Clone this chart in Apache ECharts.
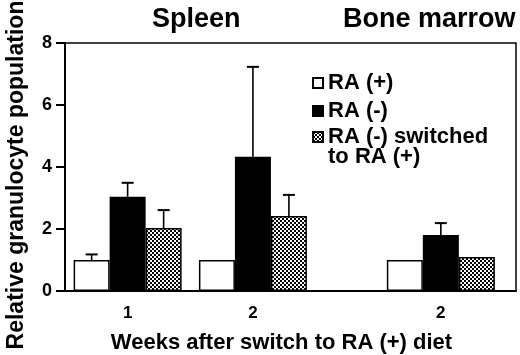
<!DOCTYPE html>
<html>
<head>
<meta charset="utf-8">
<script src="https://cdn.jsdelivr.net/npm/echarts@6/dist/echarts.min.js"></script>
<style>
  html, body { margin: 0; padding: 0; background: #fff; }
  #main { width: 520px; height: 355px; }
</style>
</head>
<body>
<div id="main"></div>
<script>
// group positions on the x scale (1 = spleen wk1, 3 = spleen wk2, 6 = bone marrow wk2)
var groupPos = [1, 3, 6];
var groupLabels = { 1: '1', 3: '2', 6: '2' };
var seriesNames = ['RA (+)', 'RA (-)', 'RA (-) switched\nto RA (+)'];

var raPlus = [1.0, 1.0, 1.0];
var raMinus = [3.04, 4.33, 1.81];
var raSwitched = [2.03, 2.42, 1.1];

var raPlusErr = [0.18, 0, 0];
var raMinusErr = [0.45, 2.9, 0.38];
var raSwitchedErr = [0.58, 0.68, 0];

var yTicks = [0, 2, 4, 6, 8];

var BAR_W = 36;
var FONT = '"Liberation Sans", Arial, Helvetica, sans-serif';

// stipple pattern for the switched group
function makeStipple() {
  var c = document.createElement('canvas');
  c.width = 4; c.height = 4;
  var ctx = c.getContext('2d');
  ctx.fillStyle = '#fff';
  ctx.fillRect(0, 0, 4, 4);
  ctx.fillStyle = '#000';
  ctx.fillRect(0, 0, 2, 2);
  ctx.fillRect(2, 2, 2, 2);
  return c;
}

var fills = ['#fff', '#000', { image: makeStipple(), repeat: 'repeat' }];
var values = [raPlus, raMinus, raSwitched];
var errs = [raPlusErr, raMinusErr, raSwitchedErr];

var myChart = echarts.init(document.getElementById('main'));

var series = [];
for (var s = 0; s < 3; s++) {
  var d = [];
  for (var i = 0; i < groupPos.length; i++) d.push([groupPos[i], values[s][i]]);
  series.push({
    type: 'bar',
    name: seriesNames[s],
    data: d,
    barWidth: BAR_W,
    barGap: '0%',
    itemStyle: { color: fills[s], borderColor: '#000', borderWidth: 1.5 },
    emphasis: { disabled: true },
    z: 2
  });
}
for (var s2 = 0; s2 < 3; s2++) {
  var ed = [];
  for (var j = 0; j < groupPos.length; j++) ed.push([groupPos[j], values[s2][j], errs[s2][j]]);
  series.push({
    type: 'custom',
    name: 'err' + s2,
    data: ed,
    z: 3,
    silent: true,
    renderItem: (function (off) {
      return function (params, api) {
        var e = api.value(2);
        if (!e) return null;
        var p0 = api.coord([api.value(0), api.value(1)]);
        var p1 = api.coord([api.value(0), api.value(1) + e]);
        var x = p0[0] + off;
        return {
          type: 'group',
          children: [
            { type: 'line', shape: { x1: x, y1: p0[1], x2: x, y2: p1[1] }, style: { stroke: '#000', lineWidth: 1.6 } },
            { type: 'line', shape: { x1: x - 6, y1: p1[1], x2: x + 6, y2: p1[1] }, style: { stroke: '#000', lineWidth: 2 } }
          ]
        };
      };
    })((s2 - 1) * BAR_W)
  });
}

var legendText = { fontFamily: FONT, fontSize: 22, fontWeight: 'bold', color: '#000' };

var option = {
  animation: false,
  textStyle: { fontFamily: FONT },
  title: [
    { text: 'Spleen', left: 147, top: 1, textStyle: { fontFamily: FONT, fontSize: 27, fontWeight: 'bold', color: '#000' } },
    { text: 'Bone marrow', left: 338, top: 1, textStyle: { fontFamily: FONT, fontSize: 27, fontWeight: 'bold', color: '#000' } }
  ],
  legend: [
    {
      data: [seriesNames[0], seriesNames[1]],
      orient: 'vertical',
      left: 307, top: 67,
      icon: 'rect',
      itemWidth: 10, itemHeight: 10, itemGap: 6,
      selectedMode: false,
      textStyle: legendText
    },
    {
      data: [seriesNames[2]],
      orient: 'vertical',
      left: 307, top: 121,
      icon: 'rect',
      itemWidth: 10, itemHeight: 10,
      selectedMode: false,
      formatter: function (name) { return name.split('\n')[0]; },
      textStyle: legendText
    }
  ],
  graphic: [
    // second line of the third legend entry
    { type: 'text', left: 328, top: 146, silent: true, style: { text: seriesNames[2].split('\n')[1], font: 'bold 22px ' + FONT, fill: '#000' } }
  ],
  grid: {
    left: 65, right: 4, top: 43, bottom: 64,
    outerBoundsMode: 'none',
    show: true, borderColor: '#000', borderWidth: 1.5, backgroundColor: 'transparent'
  },
  xAxis: {
    type: 'value',
    min: 0, max: 7.2, interval: 1,
    axisLine: { show: true, lineStyle: { color: '#000', width: 2 } },
    axisTick: { show: false },
    splitLine: { show: false },
    axisLabel: {
      margin: 14,
      color: '#000', fontSize: 17, fontWeight: 'bold', fontFamily: FONT,
      formatter: function (v) { return groupLabels[v] || ''; }
    },
    name: 'Weeks after switch to RA (+) diet',
    nameLocation: 'middle',
    nameGap: 41,
    nameTextStyle: { color: '#000', fontSize: 22, fontWeight: 'bold', fontFamily: FONT, padding: [0, 18, 0, 0] }
  },
  yAxis: {
    type: 'value',
    min: yTicks[0], max: yTicks[yTicks.length - 1], interval: 2,
    axisLine: { show: true, lineStyle: { color: '#000', width: 2 } },
    axisTick: { show: true, inside: false, length: 9, lineStyle: { color: '#000', width: 2 } },
    splitLine: { show: false },
    axisLabel: { margin: 13, color: '#000', fontSize: 18, fontWeight: 'bold', fontFamily: FONT },
    name: 'Relative granulocyte population',
    nameLocation: 'middle',
    nameGap: 37,
    nameTextStyle: { color: '#000', fontSize: 23, fontWeight: 'bold', fontFamily: FONT, padding: [0, 16, 0, 0] }
  },
  series: series
};

myChart.setOption(option);
</script>
</body>
</html>
